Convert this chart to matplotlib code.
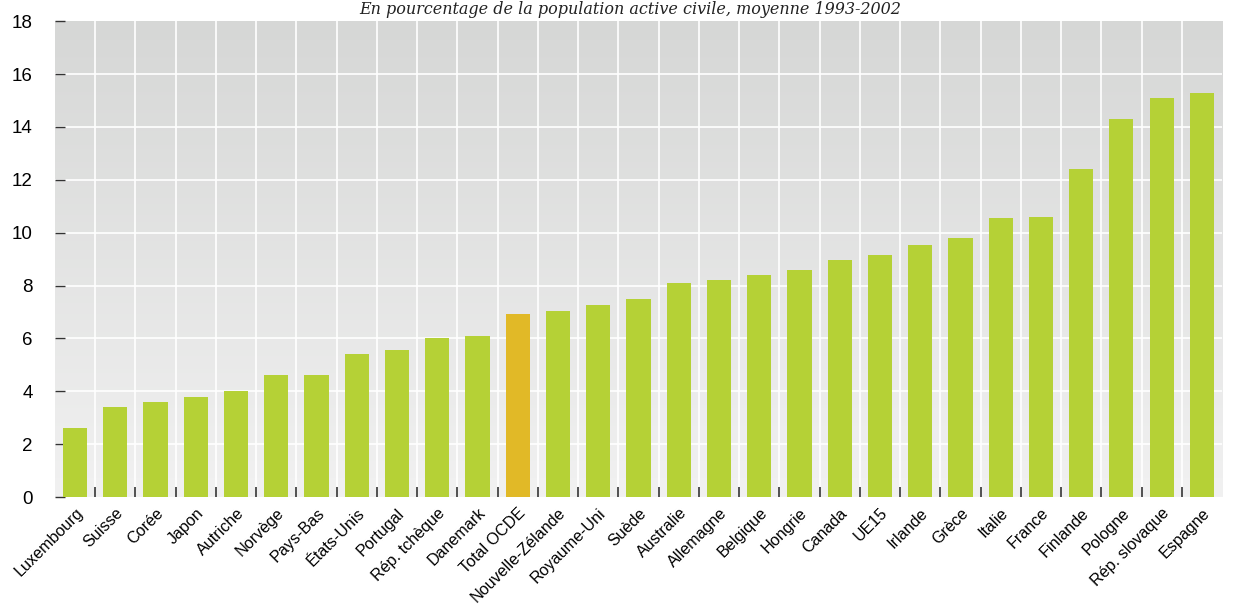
import numpy as np
import matplotlib
matplotlib.use("Agg")
import matplotlib.pyplot as plt
from matplotlib.colors import LinearSegmentedColormap


# chomage moyen 1993-2002, en % de la population active civile
pays = ["Luxembourg", "Suisse", "Corée", "Japon", "Autriche", "Norvège",
        "Pays-Bas", "États-Unis", "Portugal", "Rép. tchèque", "Danemark",
        "Total OCDE", "Nouvelle-Zélande", "Royaume-Uni", "Suède", "Australie",
        "Allemagne", "Belgique", "Hongrie", "Canada", "UE15", "Irlande",
        "Grèce", "Italie", "France", "Finlande", "Pologne", "Rép. slovaque",
        "Espagne"]
taux = [2.6, 3.4, 3.6, 3.77, 4.0, 4.6, 4.6, 5.4, 5.56, 6.0, 6.1,
        6.92, 7.03, 7.26, 7.5, 8.1, 8.2, 8.4, 8.6, 8.96, 9.15, 9.53,
        9.8, 10.55, 10.6, 12.4, 14.3, 15.1, 15.3]
yticks = [0, 2, 4, 6, 8, 10, 12, 14, 16, 18]
titre = "En pourcentage de la population active civile, moyenne 1993-2002"

vert = "#b5d136"
orange = "#e1b927"


def main():
    plt.rcParams['font.family'] = ['Liberation Sans', 'DejaVu Sans']
    fig = plt.figure(figsize=(12.35, 6.05), dpi=100)
    ax = fig.add_axes([0.0445, 0.1785, 0.945, 0.7865])

    n = len(pays)
    x = np.arange(n)
    couleurs = [orange if p == "Total OCDE" else vert for p in pays]

    # fond en degrade gris
    cmap = LinearSegmentedColormap.from_list("fond", ["#f1f1f1", "#d6d7d6"])
    grad = np.linspace(0, 1, 256).reshape(-1, 1)
    ax.imshow(grad, cmap=cmap, aspect="auto", origin="lower",
              extent=[-0.5, n - 0.5, 0, 18], zorder=0)

    for yv in yticks[1:-1]:
        ax.axhline(yv, color="white", lw=1.2, zorder=1)
    for b in np.arange(n - 1) + 0.5:
        ax.axvline(b, color="white", lw=1.2, zorder=1)

    ax.bar(x, taux, width=0.6, color=couleurs, zorder=2)

    ax.set_xlim(-0.5, n - 0.5)
    ax.set_ylim(0, 18)
    for s in ax.spines.values():
        s.set_visible(False)

    ax.set_yticks(yticks)
    ax.tick_params(axis="y", direction="in", length=7, width=1,
                   color="#333333", pad=16, labelsize=13.5)
    ax.set_xticks(x)
    ax.set_xticklabels(pays, rotation=45, ha="right", rotation_mode="anchor",
                       fontsize=11.6)
    ax.tick_params(axis="x", length=0, pad=6)
    ax.set_xticks(np.arange(n - 1) + 0.5, minor=True)
    ax.tick_params(axis="x", which="minor", direction="in", length=7,
                   width=1.3, color="#444444")

    fig.text(0.51, 0.977, titre, family="DejaVu Serif", style="italic",
             fontsize=11.5, ha="center", va="baseline", color="#222222")

    fig.savefig("out.png", dpi=100)


if __name__ == "__main__":
    main()
